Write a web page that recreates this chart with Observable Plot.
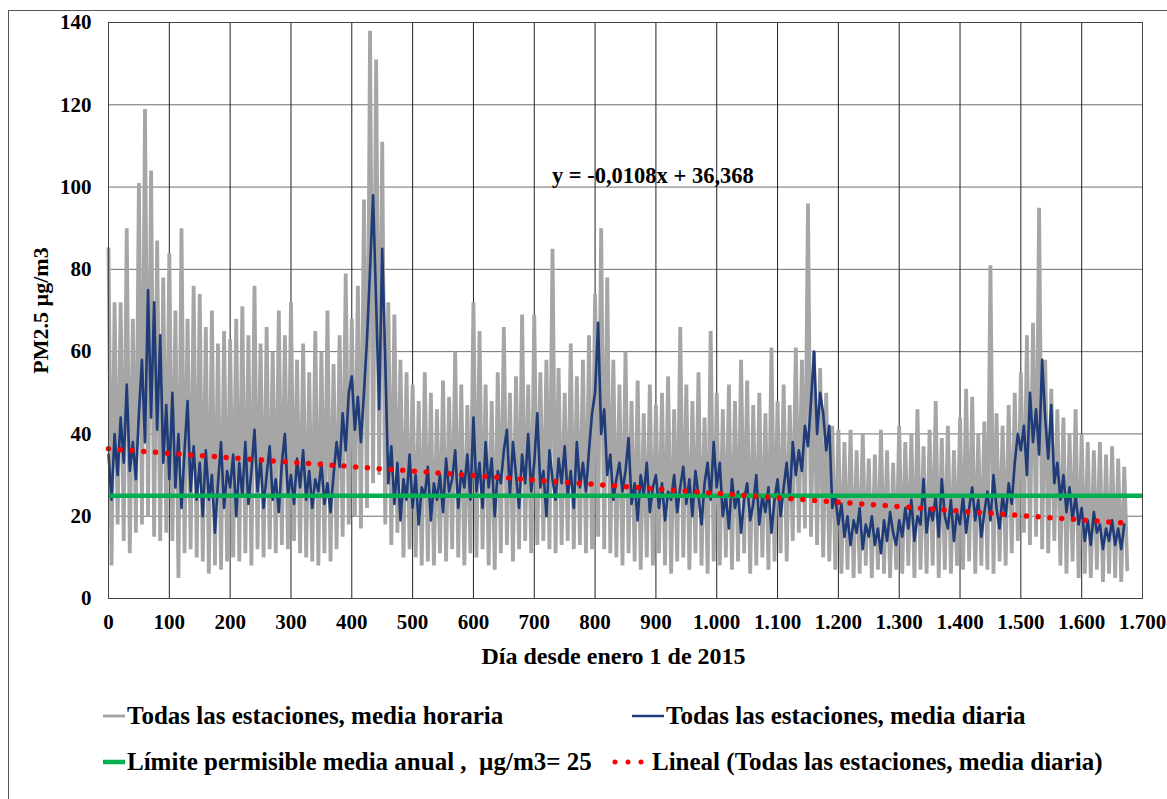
<!DOCTYPE html>
<html><head><meta charset="utf-8">
<script src="https://cdn.jsdelivr.net/npm/d3@7"></script>
<script src="https://cdn.jsdelivr.net/npm/@observablehq/plot@0.6"></script>
<style>
body{margin:0;background:#fff;}
#wrap{position:relative;width:1167px;height:799px;overflow:hidden;background:#fff;}
#border{position:absolute;left:8px;top:10px;width:1200px;height:900px;border:1px solid #555;}
#chart{position:absolute;left:0;top:0;}
.leg{position:absolute;height:30px;display:flex;align-items:center;white-space:pre;font:bold 25px "Liberation Serif","Times New Roman",serif;color:#000;}
.leg svg{margin-right:2px;}
</style></head><body>
<div id="wrap"><div id="border"></div><div id="chart"></div><div id="legend"></div></div>
<script>
// ---- data ----
const dailyStep = 5;   // daily mean sampled every 5 days, starting at day 0
const dailyMean = [
 35,24,40,30,44,33,52,31,38,29,
 45,58,38,75,44,72,41,64,33,47,
 29,50,27,40,22,36,48,26,37,24,
 33,20,36,24,30,16,28,38,22,31,
 27,35,20,33,25,38,23,31,41,26,
 34,22,30,37,24,29,21,33,40,25,
 30,23,34,27,36,24,31,22,29,26,
 33,23,28,21,30,38,32,45,36,50,
 54,41,49,38,50,63,80,98,72,46,
 85,58,28,37,23,33,19,29,24,35,
 22,30,18,27,25,32,19,28,24,30,
 21,34,26,29,36,22,31,27,35,24,
 44,26,33,22,38,27,34,20,31,28,
 36,41,25,38,30,22,35,28,40,26,
 33,45,27,31,20,36,29,24,34,28,
 37,25,31,22,38,27,33,26,36,45,
 50,67,40,46,30,35,24,29,33,26,
 31,39,23,28,19,30,25,33,21,27,
 30,22,28,19,26,24,30,21,27,32,
 23,29,20,31,25,18,28,33,24,38,
 27,33,20,25,17,29,22,26,16,24,
 28,19,23,30,18,25,21,27,16,24,
 29,20,27,33,24,38,30,36,31,42,
 37,48,60,40,50,45,36,42,22,25,
 18,23,15,20,13,19,16,22,12,18,
 15,20,13,17,11,19,14,21,16,13,
 19,15,22,17,24,14,20,18,29,16,
 22,19,25,15,29,20,17,24,14,21,
 18,25,16,22,27,19,24,15,21,26,
 19,30,22,17,25,20,28,23,33,40,
 36,42,30,50,38,46,35,58,44,34,
 47,28,33,24,30,21,27,19,25,18,
 22,14,19,13,21,16,18,12,17,14,
 19,13,17,12,18
];
const hourlyBin = 10;  // hourly values: high and low reached in each 10-day bin
const hourlyHigh = [
 85,72,72,90,68,101,119,104,87,78,
 84,70,90,68,76,74,66,70,62,65,
 63,68,71,64,76,62,66,60,70,64,
 72,58,62,55,65,60,70,57,64,79,
 68,76,97,138,131,111,72,69,58,55,
 52,48,55,50,46,53,49,60,52,47,
 72,65,52,48,55,66,50,54,69,52,
 69,55,58,85,56,50,62,54,58,64,
 74,90,78,58,52,60,48,53,45,52,
 47,50,54,46,66,52,48,55,44,65,
 50,46,52,48,58,53,47,50,45,61,
 48,52,47,61,58,96,60,56,50,42,
 41,38,41,36,40,34,35,41,36,33,
 42,38,40,46,37,41,48,39,42,36,
 44,51,49,40,43,81,45,42,47,50,
 55,64,67,95,58,51,46,44,40,46,
 40,38,36,38,35,37,34,32
];
const hourlyLow = [
 8,18,14,11,16,18,20,15,14,16,
 14,5,11,12,10,9,6,8,7,9,
 10,9,11,8,12,10,12,11,13,12,
 14,11,10,9,8,11,9,12,15,18,
 20,17,22,28,30,18,13,16,10,12,
 10,8,9,8,11,9,12,10,8,11,
 10,12,8,7,11,13,9,12,14,11,
 13,14,12,11,13,14,12,13,11,12,
 15,12,11,10,8,11,9,7,10,8,
 11,8,6,9,10,7,11,8,6,9,
 8,10,7,9,11,6,8,10,7,9,
 11,9,14,16,17,15,13,10,9,7,
 6,7,5,6,8,5,7,6,5,7,
 6,8,5,7,6,8,5,7,6,8,
 7,9,6,8,7,6,9,8,11,14,
 16,13,15,12,11,14,8,6,9,5,
 6,5,7,4,6,5,4,7
];
const limitValue = 25;
const trendSlope = -0.0108, trendIntercept = 36.368, trendRange = [0, 1670];
const equationText = "y = -0,0108x + 36,368";
const xTitle = "Día desde enero 1 de 2015";
const yTitle = "PM2.5 µg/m3";
const xTicks = [0,100,200,300,400,500,600,700,800,900,1000,1100,1200,1300,1400,1500,1600,1700];
const yTicks = [0,20,40,60,80,100,120,140];
const legendItems = [
 {label:"Todas las estaciones, media horaria", kind:"gray"},
 {label:"Todas las estaciones, media diaria", kind:"blue"},
 {label:"Límite permisible media anual ,  µg/m3= 25", kind:"green"},
 {label:"Lineal (Todas las estaciones, media diaria)", kind:"red"}
];

// ---- build tables ----
const daily = dailyMean.map((v,i)=>({day:i*dailyStep, v}));
const hourly = hourlyHigh.flatMap((h,i)=>[{day:i*hourlyBin, v:h},{day:i*hourlyBin+hourlyBin/2, v:hourlyLow[i]}]);
const trend = trendRange.map(d=>({day:d, v:trendSlope*d+trendIntercept}));
const fmt = d => d >= 1000 ? `${Math.floor(d/1000)}.${String(d%1000).padStart(3,"0")}` : String(d);

const colors = {gray:"#a6a6a6", blue:"#1f3b78", green:"#00b050", red:"#ff0000"};
const font = `"Liberation Serif","Times New Roman",serif`;

const chart = Plot.plot({
  width:1167, height:680,
  marginLeft:108, marginRight:25, marginTop:22, marginBottom:82,
  style:{fontFamily:font, fontWeight:"bold", fontSize:"21px", color:"#000", background:"transparent", overflow:"visible"},
  x:{domain:[0,1700]},
  y:{domain:[0,140]},
  marks:[
    Plot.gridY(yTicks,{stroke:"#6e6e6e", strokeOpacity:1, strokeWidth:1}),
    Plot.gridX(xTicks,{stroke:"#222", strokeOpacity:1, strokeWidth:1}),
    Plot.line(hourly,{x:"day", y:"v", stroke:colors.gray, strokeWidth:3.8, strokeLinejoin:"bevel"}),
    Plot.line(daily,{x:"day", y:"v", stroke:colors.blue, strokeWidth:2.6, strokeLinejoin:"round"}),
    Plot.ruleY([limitValue],{stroke:colors.green, strokeWidth:4.5}),
    Plot.line(trend,{x:"day", y:"v", stroke:colors.red, strokeWidth:5.5, strokeDasharray:"0 11.8", strokeLinecap:"round"}),
    Plot.frame({stroke:"#444"}),
    Plot.axisX(xTicks,{tickSize:0, tickPadding:16, tickFormat:fmt, fontSize:21, label:null}),
    Plot.axisY(yTicks,{tickSize:0, tickPadding:17, fontSize:21, label:null}),
    Plot.text([xTitle],{frameAnchor:"bottom", dy:58, dx:-12, text:d=>d, fontSize:24, fontWeight:"bold", fill:"#000", lineAnchor:"middle"}),
    Plot.text([yTitle],{frameAnchor:"left", dx:-68, rotate:-90, text:d=>d, fontSize:22, fontWeight:"bold", fill:"#000", lineAnchor:"middle", textAnchor:"middle"}),
    Plot.text([equationText],{x:()=>895, y:()=>101, text:d=>d, fontSize:22.5, fontWeight:"bold", fill:"#000", textAnchor:"middle", lineAnchor:"bottom"})
  ]
});
document.getElementById("chart").append(chart);

// ---- legend ----
const legPos = [
 {left:103, top:701, sw:22},
 {left:632, top:701, sw:32},
 {left:103, top:747, sw:22},
 {left:612, top:747, sw:38}
];
const legend = document.getElementById("legend");
legendItems.forEach((it,i)=>{
  const p = legPos[i];
  const div = document.createElement("div");
  div.className = "leg";
  div.style.left = p.left+"px"; div.style.top = p.top+"px";
  const svg = d3.create("svg").attr("width",p.sw).attr("height",10);
  if (it.kind==="red") {
    svg.append("line").attr("x1",3).attr("x2",p.sw-2).attr("y1",5).attr("y2",5)
      .attr("stroke",colors.red).attr("stroke-width",5).attr("stroke-linecap","round").attr("stroke-dasharray","0 13");
  } else {
    svg.append("line").attr("x1",0).attr("x2",p.sw).attr("y1",5).attr("y2",5)
      .attr("stroke",colors[it.kind]).attr("stroke-width",it.kind==="green"?4.5:it.kind==="gray"?3:2.5);
  }
  div.append(svg.node());
  const span = document.createElement("span"); span.textContent = it.label;
  div.append(span);
  legend.append(div);
});
</script>
</body></html>
